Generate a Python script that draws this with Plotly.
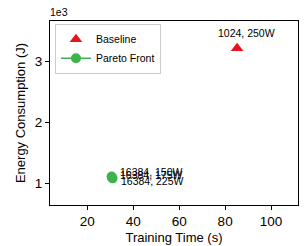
import plotly.graph_objects as go

# Data
baseline_time = [85.2]
baseline_energy = [3210]
baseline_labels = ["1024, 250W"]

pareto_time = [30.6, 30.8, 31.0]
pareto_energy = [1110, 1095, 1080]
pareto_labels = ["16384, 150W", "16384, 175W", "16384, 225W"]
pareto_label_yshift = [5, 2, -2.5]

x_ticks = [20, 40, 60, 80, 100]
y_ticks = [1000, 2000, 3000]
y_tick_text = ["1", "2", "3"]

FONT = "Liberation Sans, Arial, sans-serif"

fig = go.Figure()
fig.add_trace(go.Scatter(
    x=baseline_time, y=baseline_energy, mode="markers", name="Baseline",
    marker=dict(symbol="triangle-up", size=11, color="#e8141b"),
))
fig.add_trace(go.Scatter(
    x=pareto_time, y=pareto_energy, mode="lines+markers", name="Pareto Front",
    marker=dict(symbol="circle", size=10, color="#3cb44b"),
    line=dict(color="#3cb44b", width=1.5),
))

annotations = []
for x, y, t in zip(baseline_time, baseline_energy, baseline_labels):
    annotations.append(dict(x=x, y=y, xref="x", yref="y", text=t, showarrow=False,
                            xanchor="center", yanchor="middle", xshift=9, yshift=15,
                            font=dict(size=10.5, color="black", family=FONT)))
for x, y, t, s in zip(pareto_time, pareto_energy, pareto_labels, pareto_label_yshift):
    annotations.append(dict(x=x, y=y, xref="x", yref="y", text=t, showarrow=False,
                            xanchor="left", yanchor="middle", xshift=6, yshift=s,
                            font=dict(size=10.5, color="black", family=FONT)))
annotations.append(dict(x=0, y=1, xref="paper", yref="paper", text="1e3", showarrow=False,
                        xanchor="left", yanchor="bottom", yshift=1, xshift=-2,
                        font=dict(size=10.5, color="black", family=FONT)))

fig.update_layout(
    width=305, height=246,
    margin=dict(l=50, r=7, t=21, b=41),
    paper_bgcolor="white", plot_bgcolor="white",
    font=dict(family=FONT, size=13, color="black"),
    showlegend=True,
    legend=dict(x=0.02, y=0.985, xanchor="left", yanchor="top",
                bgcolor="white", bordercolor="#cccccc", borderwidth=1,
                font=dict(size=10.5, family=FONT), itemwidth=30,
                tracegroupgap=0),
    annotations=annotations,
    xaxis=dict(range=[3.8, 111.7], tickvals=x_ticks, ticks="outside", ticklen=4,
               tickcolor="black", showline=True, linecolor="black", linewidth=1,
               mirror=True, showgrid=False, zeroline=False, automargin=False,
               title=dict(text="Training Time (s)", font=dict(size=13), standoff=4),
               tickfont=dict(size=13.5)),
    yaxis=dict(range=[644, 3656], tickvals=y_ticks, ticktext=y_tick_text,
               ticks="outside", ticklen=4, tickcolor="black", showline=True,
               linecolor="black", linewidth=1, mirror=True, showgrid=False,
               zeroline=False, automargin=False,
               title=dict(text="Energy Consumption (J)", font=dict(size=13), standoff=6),
               tickfont=dict(size=13.5)),
)

fig.write_html("out.html", config={"displayModeBar": False},
               post_script="document.body.style.margin='0';document.body.style.padding='0';")
